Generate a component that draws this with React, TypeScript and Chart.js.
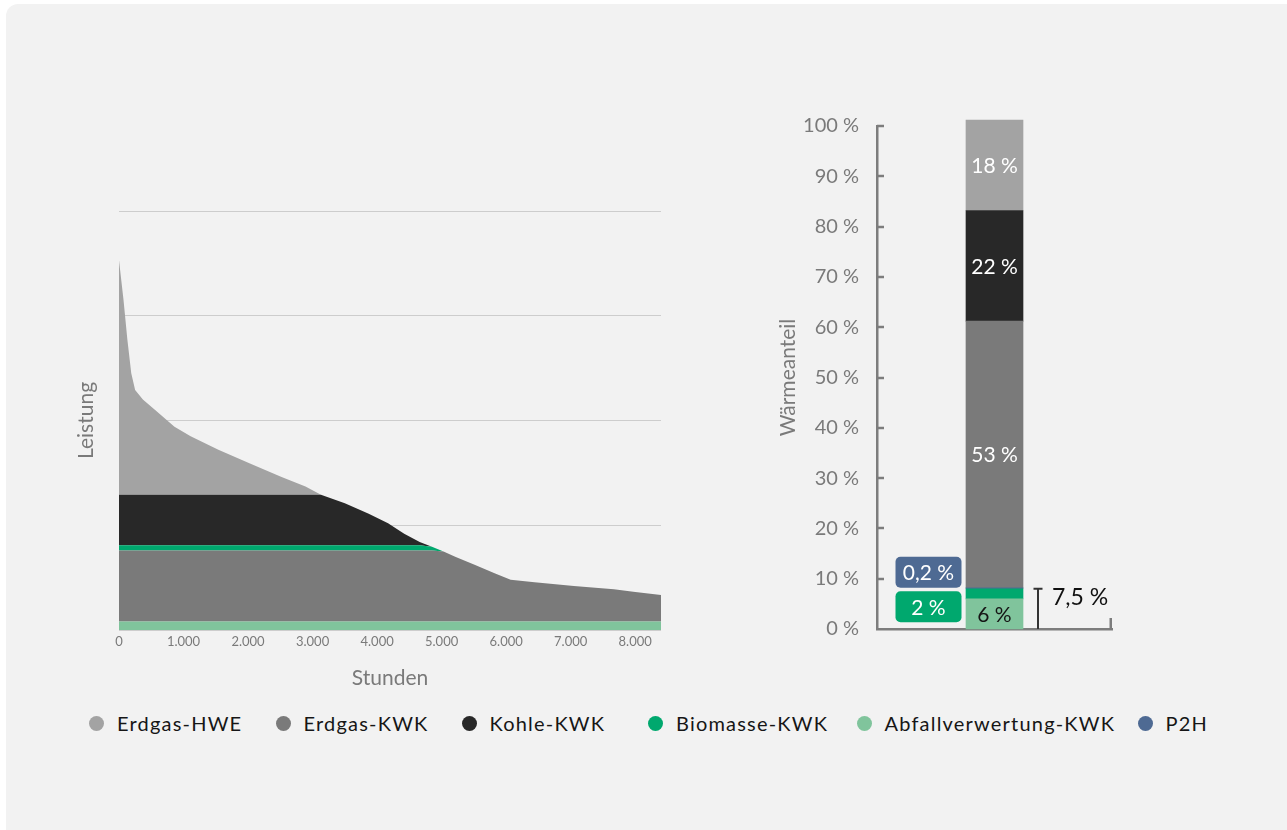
import React, { useEffect, useRef } from 'react';
import { Chart, registerables } from 'chart.js';

Chart.register(...registerables);

const FONT_FAMILY = 'Lato, "Open Sans", sans-serif';
const AXIS_GRAY = '#7d7d7d';
const TEXT_GRAY = '#7a7a7a';

// ---------- Left chart: Jahresdauerlinie (Leistung über Stunden) ----------
const hours = [0, 70, 130, 190, 250, 370, 560, 860, 1110, 1540, 2030, 2520, 2890, 3130, 3500, 3870, 4170, 4420, 4660, 4850, 5030, 5210, 5520, 5830, 6070, 6440, 7050, 7670, 7970, 8400];
const loadAbfall = [8, 8, 8, 8, 8, 8, 8, 8, 8, 8, 8, 8, 8, 8, 8, 8, 8, 8, 8, 8, 8, 8, 8, 8, 8, 8, 8, 8, 8, 8];
const loadErdgasKwk = [68, 68, 68, 68, 68, 68, 68, 68, 68, 68, 68, 68, 68, 68, 68, 68, 68, 68, 68, 68, 67, 62, 54, 46, 40, 37.5, 34, 31, 28.5, 25.5];
const loadBiomasse = [5, 5, 5, 5, 5, 5, 5, 5, 5, 5, 5, 5, 5, 5, 5, 5, 5, 5, 5, 3.5, 0, 0, 0, 0, 0, 0, 0, 0, 0, 0];
const loadKohle = [48, 48, 48, 48, 48, 48, 48, 48, 48, 48, 48, 48, 48, 48, 40, 30, 21, 11, 3, 0, 0, 0, 0, 0, 0, 0, 0, 0, 0, 0];
const loadErdgasHwe = [224, 186, 148, 116, 100, 91, 81, 65, 56, 43, 30, 17, 8, 0, 0, 0, 0, 0, 0, 0, 0, 0, 0, 0, 0, 0, 0, 0, 0, 0];
const hourTickValues = [0, 1000, 2000, 3000, 4000, 5000, 6000, 7000, 8000];
const hourTickLabels = ['0', '1.000', '2.000', '3.000', '4.000', '5.000', '6.000', '7.000', '8.000'];

// ---------- Right chart: Wärmeanteil ----------
const shareSeries = ['Abfallverwertung-KWK', 'Biomasse-KWK', 'P2H', 'Erdgas-KWK', 'Kohle-KWK', 'Erdgas-HWE'];
const shareValues = [6, 2, 0.2, 53, 22, 18];
const shareLabels = ['6 %', '2 %', '0,2 %', '53 %', '22 %', '18 %'];
const shareTickValues = [0, 10, 20, 30, 40, 50, 60, 70, 80, 90, 100];
const shareTickLabels = ['0 %', '10 %', '20 %', '30 %', '40 %', '50 %', '60 %', '70 %', '80 %', '90 %', '100 %'];
const bracketLabel = '7,5 %';

const seriesColors: Record<string, string> = {
  'Erdgas-HWE': '#a3a3a3',
  'Erdgas-KWK': '#7a7a7a',
  'Kohle-KWK': '#282828',
  'Biomasse-KWK': '#00a86e',
  'Abfallverwertung-KWK': '#80c49c',
  'P2H': '#4e6a93',
};
const legendItems = ['Erdgas-HWE', 'Erdgas-KWK', 'Kohle-KWK', 'Biomasse-KWK', 'Abfallverwertung-KWK', 'P2H'];
const legendDotCenters = [96.5, 283, 469, 655.5, 864, 1145];

function leftConfig(): any {
  const toPoints = (vals: number[]) => hours.map((h, i) => ({ x: h, y: vals[i] }));
  const layers: [string, number[]][] = [
    ['Abfallverwertung-KWK', loadAbfall],
    ['Erdgas-KWK', loadErdgasKwk],
    ['Biomasse-KWK', loadBiomasse],
    ['Kohle-KWK', loadKohle],
    ['Erdgas-HWE', loadErdgasHwe],
  ];
  const datasets = layers.map(([name, vals], i) => ({
    label: name,
    data: toPoints(vals),
    backgroundColor: seriesColors[name],
    borderColor: seriesColors[name],
    borderWidth: 0,
    pointRadius: 0,
    tension: 0,
    fill: i === 0 ? 'origin' : '-1',
  }));
  return {
    type: 'line',
    data: { datasets },
    options: {
      animation: false,
      responsive: false,
      devicePixelRatio: 1,
      layout: { padding: { top: 31, right: 19, bottom: 0, left: 0 } },
      plugins: { legend: { display: false }, tooltip: { enabled: false } },
      scales: {
        x: {
          type: 'linear',
          bounds: 'data',
          min: 0,
          max: 8400,
          grid: { display: false, drawTicks: false },
          border: { display: false },
          afterBuildTicks: (s: any) => {
            s.ticks = hourTickValues.map((v) => ({ value: v }));
          },
          ticks: {
            autoSkip: false,
            maxRotation: 0,
            padding: 4,
            font: { family: FONT_FAMILY, size: 13 },
            color: TEXT_GRAY,
            callback: (v: number) => {
              const i = hourTickValues.indexOf(v);
              return i >= 0 ? hourTickLabels[i] : '';
            },
          },
          title: {
            display: true,
            text: 'Stunden',
            font: { family: FONT_FAMILY, size: 21 },
            color: TEXT_GRAY,
            padding: { top: 0, bottom: 9 },
          },
          afterFit: (s: any) => { s.height = 70; },
        },
        y: {
          stacked: true,
          min: 0,
          max: 400,
          ticks: { display: false, stepSize: 100 },
          grid: { color: '#cdcdcd', drawTicks: false, lineWidth: 1 },
          border: { display: false },
          title: {
            display: true,
            text: 'Leistung',
            font: { family: FONT_FAMILY, size: 21 },
            color: TEXT_GRAY,
            padding: { top: 14, bottom: 0 },
          },
          afterFit: (s: any) => { s.width = 59; },
        },
      },
    },
  };
}

const barDecorPlugin = {
  id: 'barDecor',
  afterDraw(chart: any) {
    const { ctx, chartArea, scales } = chart;
    const el = (i: number) => chart.getDatasetMeta(i).data[0] as any;
    ctx.save();
    // inward tick marks on the y axis
    ctx.strokeStyle = AXIS_GRAY;
    ctx.lineWidth = 2.5;
    scales.y.ticks.forEach((t: any) => {
      if (t.value === 0) return;
      const y = Math.round(scales.y.getPixelForValue(t.value));
      ctx.beginPath();
      ctx.moveTo(chartArea.left, y);
      ctx.lineTo(chartArea.left + 7, y);
      ctx.stroke();
    });
    // end tick of the x axis
    ctx.beginPath();
    ctx.moveTo(chartArea.right - 1.25, chartArea.bottom + 1);
    ctx.lineTo(chartArea.right - 1.25, chartArea.bottom - 11);
    ctx.stroke();

    // labels inside the bar
    ctx.font = `21px ${FONT_FAMILY}`;
    ctx.textAlign = 'center';
    ctx.textBaseline = 'middle';
    [0, 3, 4, 5].forEach((i) => {
      const e = el(i);
      ctx.fillStyle = i === 0 ? '#151515' : '#ffffff';
      ctx.fillText(shareLabels[i], e.x, (e.y + e.base) / 2 + 1);
    });

    // boxed labels for small segments
    const bio = el(1);
    const p2h = el(2);
    const boxRight = bio.x - bio.width / 2 - 4.5;
    const boxW = 66;
    const boxH = 31;
    const drawBox = (top: number, color: string, text: string) => {
      ctx.fillStyle = color;
      ctx.beginPath();
      (ctx as any).roundRect(boxRight - boxW, top, boxW, boxH, 5);
      ctx.fill();
      ctx.fillStyle = '#ffffff';
      ctx.fillText(text, boxRight - boxW / 2, top + boxH / 2 + 1);
    };
    drawBox(p2h.y - boxH, seriesColors['P2H'], shareLabels[2]);
    drawBox(bio.y + 2.5, seriesColors['Biomasse-KWK'], shareLabels[1]);

    // bracket for Abfall + Biomasse
    const bx = bio.x + bio.width / 2 + 15;
    ctx.strokeStyle = '#333333';
    ctx.lineWidth = 2;
    ctx.beginPath();
    ctx.moveTo(bx, chartArea.bottom);
    ctx.lineTo(bx, bio.y);
    ctx.moveTo(bx - 4.5, bio.y);
    ctx.lineTo(bx + 4.5, bio.y);
    ctx.stroke();
    ctx.font = `23px ${FONT_FAMILY}`;
    ctx.fillStyle = '#111111';
    ctx.textAlign = 'left';
    ctx.fillText(bracketLabel, bx + 14, bio.y + 9);
    ctx.restore();
  },
};

function rightConfig(): any {
  return {
    type: 'bar',
    data: {
      labels: [''],
      datasets: shareSeries.map((s, i) => ({
        label: s,
        data: [shareValues[i]],
        backgroundColor: seriesColors[s],
        borderWidth: 0,
        barThickness: 57,
        clip: false,
      })),
    },
    options: {
      animation: false,
      responsive: false,
      devicePixelRatio: 1,
      layout: { padding: { top: 26, right: 28, bottom: 0, left: 0 } },
      plugins: { legend: { display: false }, tooltip: { enabled: false } },
      scales: {
        x: {
          stacked: true,
          z: 1,
          grid: { display: false, drawTicks: false },
          ticks: { display: false },
          border: { display: true, color: AXIS_GRAY, width: 2.5 },
          afterFit: (s: any) => { s.height = 31; },
        },
        y: {
          stacked: true,
          min: 0,
          max: 100,
          grid: { display: false, drawTicks: false },
          border: { display: true, color: AXIS_GRAY, width: 2.5 },
          afterBuildTicks: (s: any) => {
            s.ticks = shareTickValues.map((v) => ({ value: v }));
          },
          ticks: {
            padding: 18,
            font: { family: FONT_FAMILY, size: 20 },
            color: TEXT_GRAY,
            callback: (v: number) => {
              const i = shareTickValues.indexOf(v);
              return i >= 0 ? shareTickLabels[i] : '';
            },
          },
          title: {
            display: true,
            text: 'Wärmeanteil',
            font: { family: FONT_FAMILY, size: 21 },
            color: TEXT_GRAY,
            padding: { top: 36, bottom: 0 },
          },
          afterFit: (s: any) => {
            s.width = 137;
            s.paddingTop = 0;
            s.paddingBottom = 0;
          },
        },
      },
    },
    plugins: [barDecorPlugin],
  };
}

export default function App() {
  const leftRef = useRef<HTMLCanvasElement>(null);
  const rightRef = useRef<HTMLCanvasElement>(null);

  useEffect(() => {
    const left = new Chart(leftRef.current as HTMLCanvasElement, leftConfig());
    const right = new Chart(rightRef.current as HTMLCanvasElement, rightConfig());
    return () => {
      left.destroy();
      right.destroy();
    };
  }, []);

  return (
    <div style={{ position: 'fixed', left: 0, top: 0, width: 1287, height: 830, overflow: 'hidden', background: '#ffffff' }}>
      <div style={{ position: 'absolute', left: 6, top: 4, width: 1300, height: 850, borderRadius: 12, background: '#f2f2f2' }} />
      <canvas
        ref={leftRef}
        width={620}
        height={520}
        style={{ position: 'absolute', left: 60, top: 180, width: 620, height: 520, display: 'block' }}
      />
      <canvas
        ref={rightRef}
        width={400}
        height={560}
        style={{ position: 'absolute', left: 740, top: 100, width: 400, height: 560, display: 'block' }}
      />
      {legendItems.map((name, i) => (
        <div
          key={name}
          style={{
            position: 'absolute',
            left: legendDotCenters[i] - 7.5,
            top: 708,
            height: 30,
            display: 'flex',
            alignItems: 'center',
            whiteSpace: 'nowrap',
          }}
        >
          <span style={{ width: 15, height: 15, borderRadius: '50%', background: seriesColors[name], display: 'inline-block', flexShrink: 0 }} />
          <span style={{ marginLeft: 13, fontFamily: FONT_FAMILY, fontSize: 20, color: '#161616', letterSpacing: 1.2 }}>{name}</span>
        </div>
      ))}
    </div>
  );
}
